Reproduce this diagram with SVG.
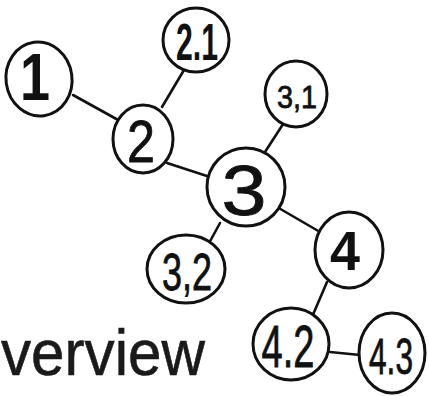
<svg xmlns="http://www.w3.org/2000/svg" width="429" height="396" viewBox="0 0 429 396">
<style>
.n{fill:#fff;stroke:#111;stroke-width:3;}
.e{stroke:#111;stroke-width:2.6;stroke-linecap:round;fill:none;}
.t{font-family:"Liberation Sans",Arial,sans-serif;fill:#111;text-anchor:middle;stroke:#111;stroke-width:0.8;}
.b{font-weight:bold;stroke-width:0;}
.title{font-family:"Liberation Sans",Arial,sans-serif;fill:#1a1a1a;font-size:64px;stroke:#1a1a1a;stroke-width:0.6;}
</style>
<rect width="429" height="396" fill="#fff"/>
<g id="connectors">
<line class="e" x1="73" y1="95" x2="120" y2="121"/>
<line class="e" x1="162" y1="107" x2="184" y2="70"/>
<line class="e" x1="167" y1="163" x2="210" y2="177"/>
<line class="e" x1="265" y1="152" x2="287" y2="118"/>
<line class="e" x1="277" y1="207" x2="320" y2="232"/>
<line class="e" x1="220" y1="223" x2="208" y2="245"/>
<line class="e" x1="327" y1="282" x2="312" y2="317"/>
<line class="e" x1="330" y1="352" x2="360" y2="355"/>
</g>
<g id="n1"><ellipse class="n" cx="39" cy="79" rx="33" ry="37" transform="rotate(-8 39 79)"/><text class="t b" x="35" y="100" font-size="66" textLength="30" lengthAdjust="spacingAndGlyphs">1</text></g>
<g id="n2_1"><ellipse class="n" cx="196" cy="40" rx="33" ry="32"/><text class="t b" x="197" y="60" font-size="52" textLength="42" lengthAdjust="spacingAndGlyphs">2.1</text></g>
<g id="n2"><ellipse class="n" cx="143" cy="139" rx="30" ry="34"/><text class="t" x="141" y="162" font-size="60" textLength="28" lengthAdjust="spacingAndGlyphs">2</text></g>
<g id="n3"><ellipse class="n" cx="246" cy="187" rx="39" ry="39"/><text class="t" x="244" y="215" font-size="70" textLength="45" lengthAdjust="spacingAndGlyphs">3</text></g>
<g id="n3_1"><ellipse class="n" cx="296" cy="94" rx="31" ry="33"/><text class="t" x="297" y="108" font-size="32" textLength="40" lengthAdjust="spacingAndGlyphs">3,1</text></g>
<g id="n4"><ellipse class="n" cx="349" cy="250" rx="34" ry="38"/><text class="t b" x="345" y="270" font-size="56" textLength="30" lengthAdjust="spacingAndGlyphs">4</text></g>
<g id="n3_2"><ellipse class="n" cx="186" cy="269" rx="39" ry="34"/><text class="t" x="187" y="290" font-size="52" textLength="50" lengthAdjust="spacingAndGlyphs">3,2</text></g>
<g id="n4_2"><ellipse class="n" cx="291" cy="344" rx="38" ry="36"/><text class="t" x="288" y="367" font-size="60" textLength="53" lengthAdjust="spacingAndGlyphs">4.2</text></g>
<g id="n4_3"><ellipse class="n" cx="392" cy="353" rx="33" ry="40"/><text class="t" x="391" y="374" font-size="50" textLength="44" lengthAdjust="spacingAndGlyphs">4.3</text></g>
<text class="title" x="1" y="375" textLength="204" lengthAdjust="spacingAndGlyphs">verview</text>
</svg>
